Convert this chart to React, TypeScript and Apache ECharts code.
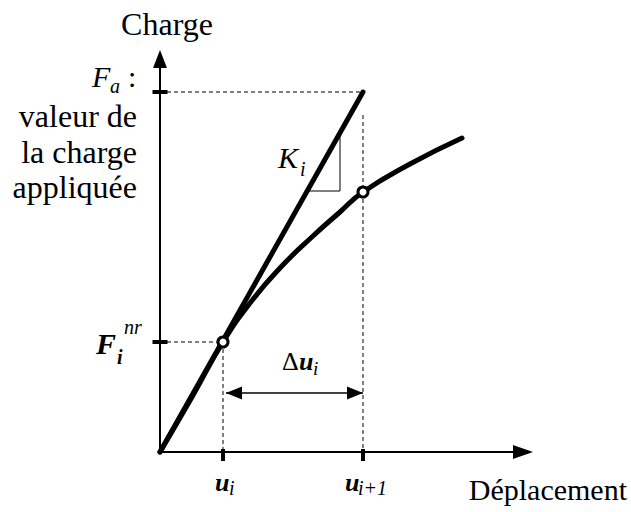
import React, { useEffect, useRef } from "react";
import * as echarts from "echarts";

const SERIF = "Liberation Serif";
const INK = "#000";

// Axis extents, in sketch units
const X_MAX = 363;
const Y_MAX = 393;

// Iteration quantities
const U_I = 63; // u_i
const U_NEXT = 203; // u_{i+1}
const F_NR = 110; // F_i^nr
const F_A = 360; // F_a, applied load

// Tangent stiffness K_i from the origin up to the applied load
const tangentLine = [
  [0, 0],
  [U_NEXT, F_A],
];

// Non-linear load / displacement response
const responseCurve = [
  [0, 0],
  [32, 55],
  [63, 110],
  [90, 149],
  [120, 184],
  [153, 216],
  [180, 240],
  [203, 260],
  [250, 288],
  [302, 314],
];

// Equilibrium states (open circles)
const iteratePoints = [
  [U_I, F_NR],
  [U_NEXT, 260],
];

// Small slope triangle drawn against the tangent
const slopeTriangle = [
  [147, 261],
  [180, 261],
  [180, 319],
];

// Height of the Δu_i dimension arrow and top of the u_{i+1} guide
const DELTA_Y = 59;
const GUIDE_TOP = 337;

// Label texts
const Y_TITLE = "Charge";
const X_TITLE = "Déplacement";
const FA_NOTE = ["valeur de", "la charge", "appliquée"];

type Pt = [number, number];

function txt(
  text: string,
  x: number,
  baseline: number,
  size: number,
  opt: { italic?: boolean; bold?: boolean; align?: string } = {}
) {
  const align = opt.align || "left";
  return {
    type: "text",
    x,
    y: baseline - 0.3375 * size,
    silent: true,
    style: {
      text,
      font: `${opt.italic ? "italic" : "normal"} ${opt.bold ? "bold" : "normal"} ${size}px ${SERIF}`,
      fill: INK,
      align,
      verticalAlign: "middle",
      textAlign: align,
      textVerticalAlign: "middle",
    },
  };
}

function guide(data: number[][]) {
  return {
    type: "line",
    data,
    symbol: "none",
    clip: false,
    silent: true,
    lineStyle: { color: INK, width: 1, type: [4, 3] },
    z: 1,
  };
}

export default function App() {
  const ref = useRef<HTMLDivElement>(null);

  useEffect(() => {
    if (!ref.current) return;
    const chart = echarts.init(ref.current, null, { renderer: "svg" });

    const axisCommon = {
      type: "value",
      axisTick: { show: false },
      axisLabel: { show: false },
      splitLine: { show: false },
    };

    chart.setOption({
      animation: false,
      backgroundColor: "#fff",
      textStyle: { fontFamily: SERIF },
      grid: { left: 160, top: 59, width: 363, height: 393, containLabel: false },
      xAxis: {
        ...axisCommon,
        min: 0,
        max: X_MAX,
        axisLine: {
          show: true,
          symbol: ["none", "triangle"],
          symbolSize: [14, 20],
          lineStyle: { color: INK, width: 2 },
        },
      },
      yAxis: {
        ...axisCommon,
        min: 0,
        max: Y_MAX,
        axisLine: {
          show: true,
          symbol: ["none", "triangle"],
          symbolSize: [14, 18],
          lineStyle: { color: INK, width: 2 },
        },
      },
      series: [
        guide([
          [0, F_A],
          [U_NEXT, F_A],
        ]),
        guide([
          [U_NEXT, GUIDE_TOP],
          [U_NEXT, 0],
        ]),
        guide([
          [0, F_NR],
          [U_I, F_NR],
        ]),
        guide([
          [U_I, F_NR],
          [U_I, 0],
        ]),
        {
          type: "line",
          data: slopeTriangle,
          symbol: "none",
          clip: false,
          silent: true,
          lineStyle: { color: INK, width: 1 },
          z: 2,
        },
        {
          type: "line",
          data: tangentLine,
          symbol: "none",
          clip: false,
          silent: true,
          lineStyle: { color: INK, width: 5, cap: "round" },
          z: 3,
        },
        {
          type: "line",
          data: responseCurve,
          symbol: "none",
          smooth: true,
          clip: false,
          silent: true,
          lineStyle: { color: INK, width: 5, cap: "round" },
          z: 3,
        },
        // Δu_i dimension line
        {
          type: "line",
          data: [
            [U_I + 3, DELTA_Y],
            [U_NEXT, DELTA_Y],
          ],
          symbol: "none",
          clip: false,
          silent: true,
          lineStyle: { color: INK, width: 1.5 },
          z: 2,
        },
        {
          type: "scatter",
          clip: false,
          silent: true,
          symbol: "triangle",
          symbolSize: [13, 16],
          itemStyle: { color: INK, opacity: 1 },
          data: [
            { value: [U_I + 3, DELTA_Y], symbolRotate: 90, symbolOffset: [8, 0] },
            { value: [U_NEXT, DELTA_Y], symbolRotate: -90, symbolOffset: [-8, 0] },
          ],
          z: 4,
        },
        // Axis tick marks
        {
          type: "scatter",
          clip: false,
          silent: true,
          symbol: "rect",
          itemStyle: { color: INK, opacity: 1 },
          data: [
            { value: [0, F_A], symbolSize: [15, 4] },
            { value: [0, F_NR], symbolSize: [15, 4] },
            { value: [U_I, 0], symbolSize: [4, 12], symbolOffset: [0, 3] },
            { value: [U_NEXT, 0], symbolSize: [4, 12], symbolOffset: [0, 3] },
          ],
          z: 4,
        },
        {
          type: "scatter",
          data: iteratePoints,
          clip: false,
          silent: true,
          symbol: "circle",
          symbolSize: 10,
          itemStyle: { color: "#fff", borderColor: INK, borderWidth: 3, opacity: 1 },
          z: 5,
        },
      ],
    });

    const px = (x: number, y: number): Pt =>
      chart.convertToPixel({ gridIndex: 0 }, [x, y]) as Pt;
    const O = px(0, 0);
    const top = px(0, Y_MAX);
    const fa = px(0, F_A);
    const nr = px(0, F_NR);
    const ui = px(U_I, 0);
    const un = px(U_NEXT, 0);
    const xEnd = px(X_MAX, 0);
    const tri = px(slopeTriangle[0][0], slopeTriangle[0][1]);
    const dl = px(U_I, DELTA_Y);

    const elements: any[] = [
      txt(Y_TITLE, O[0] + 7, top[1] - 24, 32, { align: "center" }),
      // F_a :
      txt("F", O[0] - 68, fa[1] - 5, 30, { italic: true }),
      txt("a", O[0] - 50, fa[1] + 1, 20, { italic: true }),
      txt(":", O[0] - 32, fa[1] - 5, 30),
      ...FA_NOTE.map((line, i) =>
        txt(line, O[0] - 23, fa[1] + 35 + i * 35.5, 32, { align: "right" })
      ),
      // F_i^nr
      txt("F", O[0] - 64, nr[1] + 12, 30, { italic: true, bold: true }),
      txt("i", O[0] - 43, nr[1] + 22, 20, { italic: true, bold: true }),
      txt("nr", O[0] - 36, nr[1] - 8, 20, { italic: true }),
      // K_i
      txt("K", tri[0] - 29, tri[1] - 23, 30, { italic: true }),
      txt("i", tri[0] - 7, tri[1] - 15, 20, { italic: true }),
      // Δu_i
      txt("Δ", dl[0] + 59, dl[1] - 23, 26),
      txt("u", dl[0] + 76, dl[1] - 23, 26, { italic: true, bold: true }),
      txt("i", dl[0] + 90, dl[1] - 18, 19, { italic: true }),
      // u_i, u_{i+1}
      txt("u", ui[0] - 8, O[1] + 39, 26, { italic: true, bold: true }),
      txt("i", ui[0] + 6, O[1] + 43, 20, { italic: true }),
      txt("u", un[0] - 18, O[1] + 39, 26, { italic: true, bold: true }),
      txt("i+1", un[0] - 5, O[1] + 43, 20, { italic: true }),
      txt(X_TITLE, xEnd[0] + 104, O[1] + 48, 30, { align: "right" }),
    ];

    chart.setOption({ graphic: { elements } });

    return () => chart.dispose();
  }, []);

  return (
    <div
      ref={ref}
      style={{ position: "absolute", left: 0, top: 0, width: 631, height: 512, background: "#fff" }}
    />
  );
}
